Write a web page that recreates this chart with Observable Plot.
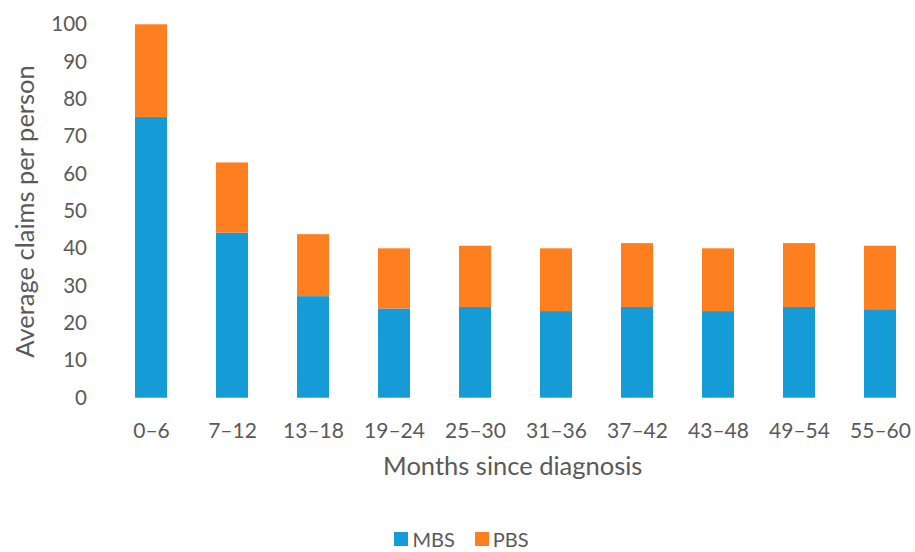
<!DOCTYPE html>
<html>
<head>
<meta charset="utf-8">
<script src="https://cdn.jsdelivr.net/npm/d3@7"></script>
<script src="https://cdn.jsdelivr.net/npm/@observablehq/plot@0.6"></script>
<style>
  html, body { margin: 0; padding: 0; background: #fff; }
  body { width: 915px; height: 552px; position: relative; overflow: hidden; font-family: Lato, sans-serif; }
  #legend { position: absolute; left: 0; top: 529px; height: 20px; line-height: 20px; width: 915px; display: flex; justify-content: center; gap: 20px; padding-left: 8px; box-sizing: border-box; font-family: Lato, sans-serif; font-size: 20px; color: #595959; }
  #legend .item { display: flex; align-items: center; gap: 4px; }
  #legend .sw { width: 14px; height: 14px; display: inline-block; }
</style>
</head>
<body>
<div id="chart"></div>
<div id="legend"></div>
<script>
const categories = ["0–6","7–12","13–18","19–24","25–30","31–36","37–42","43–48","49–54","55–60"];
const seriesNames = ["MBS","PBS"];
const mbs = [75.2, 44.2, 27.2, 23.9, 24.3, 23.2, 24.3, 23.2, 24.3, 23.7];
const pbs = [24.8, 18.8, 16.6, 16.1, 16.4, 16.8, 17.1, 16.8, 17.1, 17.0];
const colors = ["#159cd6", "#fe7f1f"];
const yTicks = [0,10,20,30,40,50,60,70,80,90,100];

const data = [];
categories.forEach((c, i) => {
  data.push({cat: c, series: "MBS", value: mbs[i]});
  data.push({cat: c, series: "PBS", value: pbs[i]});
});

const chart = Plot.plot({
  width: 915,
  height: 520,
  marginTop: 24.3,
  marginBottom: 122.3,
  marginLeft: 109.5,
  marginRight: 0,
  style: {fontFamily: "Lato, sans-serif", color: "#595959", background: "#fff"},
  x: {domain: categories, paddingInner: 0.605, paddingOuter: 0.3025, range: [109.5, 920.5]},
  y: {domain: [0, 100]},
  color: {domain: seriesNames, range: colors},
  marks: [
    Plot.barY(data, {x: "cat", y: "value", fill: "series"}),
    Plot.ruleY([0], {stroke: "#d9d9d9", strokeWidth: 2, x1: 108, x2: 915}),
    Plot.axisY({ticks: yTicks, tickSize: 0, tickPadding: 23, fontSize: 20.5, fill: "#595959",
      label: "Average claims per person", labelAnchor: "center", labelArrow: "none", labelOffset: 94}),
    Plot.axisX({tickSize: 0, tickPadding: 25, fontSize: 21, fill: "#595959",
      label: "Months since diagnosis", labelAnchor: "center", labelArrow: "none", labelOffset: 77})
  ]
});
document.getElementById("chart").appendChild(chart);

// enlarge axis labels
chart.querySelectorAll("g[aria-label='y-axis label'] text, g[aria-label='x-axis label'] text").forEach(t => {
  t.setAttribute("font-size", "25.5");
});

const legend = document.getElementById("legend");
seriesNames.forEach((s, i) => {
  const item = document.createElement("span");
  item.className = "item";
  const sw = document.createElement("span");
  sw.className = "sw";
  sw.style.background = colors[i];
  item.appendChild(sw);
  const t = document.createElement("span");
  t.textContent = s;
  item.appendChild(t);
  legend.appendChild(item);
});
</script>
</body>
</html>
